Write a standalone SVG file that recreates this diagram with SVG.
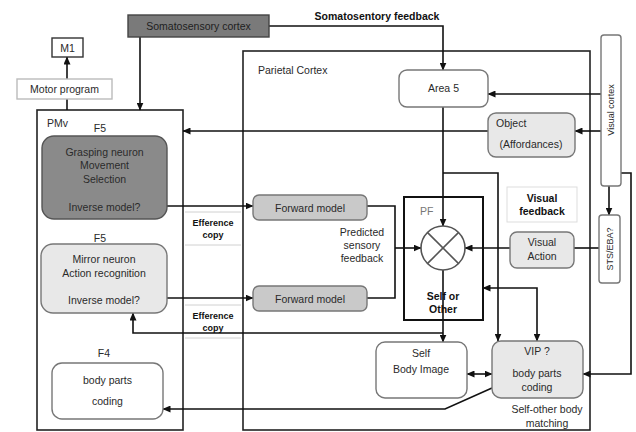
<svg xmlns="http://www.w3.org/2000/svg" width="636" height="432" viewBox="0 0 636 432">
  <defs>
    <marker id="arr" markerUnits="userSpaceOnUse" markerWidth="8" markerHeight="7" refX="7.5" refY="3.5" orient="auto">
      <path d="M0,0 L8,3.5 L0,7 z" fill="#111"/>
    </marker>
    <marker id="arrStart" markerUnits="userSpaceOnUse" markerWidth="8" markerHeight="7" refX="0.5" refY="3.5" orient="auto">
      <path d="M8,0 L0,3.5 L8,7 z" fill="#111"/>
    </marker>
  </defs>
  <style>
    text { font-family: "Liberation Sans", Arial, sans-serif; font-size: 10.5px; fill: #2a2a2a; }
    .c { text-anchor: middle; }
    .b { font-weight: bold; fill: #111; }
    .small { font-size: 9px; }
    .region { fill: none; stroke: #222; stroke-width: 1.6; }
    .box { fill: #fff; stroke: #777; stroke-width: 1.4; }
    .light { fill: #e8e8e8; stroke: #777; stroke-width: 1.4; }
    .mid { fill: #c9c9c9; stroke: #777; stroke-width: 1.4; }
    .dark { fill: #8a8a8a; stroke: #555; stroke-width: 1.4; }
    .faint { fill: none; stroke: #d0d0d0; stroke-width: 1; }
    .ln { fill: none; stroke: #111; stroke-width: 1.6; }
    .a { marker-end: url(#arr); }
    .as { marker-start: url(#arrStart); }
  </style>

  <!-- regions -->
  <g id="pmv">
    <rect class="region" x="37" y="110" width="146" height="320"/>
    <text x="47" y="127">PMv</text>
  </g>
  <g id="parietal-cortex">
    <rect class="region" x="243" y="51" width="347" height="379"/>
    <text x="258" y="74">Parietal Cortex</text>
  </g>
  <g id="efference-copy">
    <line class="faint" x1="185" y1="212" x2="241" y2="212"/>
    <line class="faint" x1="185" y1="245" x2="241" y2="245"/>
    <text class="c b small" x="213" y="226">Efference</text>
    <text class="c b small" x="213" y="238">copy</text>
    <line class="faint" x1="185" y1="305" x2="241" y2="305"/>
    <line class="faint" x1="185" y1="338" x2="241" y2="338"/>
    <text class="c b small" x="213" y="319">Efference</text>
    <text class="c b small" x="213" y="331">copy</text>
  </g>

  <!-- connectors -->
  <g id="connectors">
    <polyline class="ln a" points="269,26 443,26 443,70"/>
    <line class="ln a" x1="140" y1="37" x2="140" y2="110"/>
    <line class="ln" x1="67" y1="110" x2="67" y2="99"/>
    <line class="ln a" x1="67" y1="79" x2="67" y2="57"/>
    <line class="ln a" x1="601" y1="94" x2="488" y2="94"/>
    <line class="ln a" x1="601" y1="131" x2="575" y2="131"/>
    <line class="ln a" x1="488" y1="131" x2="183" y2="131"/>
    <polyline class="ln a" points="621,173 631,173 631,374 583,374"/>
    <line class="ln a" x1="609" y1="186" x2="609" y2="215"/>
    <line class="ln" x1="599" y1="248" x2="574" y2="248"/>
    <line class="ln a" x1="510" y1="248" x2="465" y2="248"/>
    <line class="ln a" x1="443" y1="107" x2="443" y2="226"/>
    <polyline class="ln a" points="443,173 498,173 498,341"/>
    <line class="ln a" x1="443" y1="270" x2="443" y2="342"/>
    <polyline class="ln a as" points="483,288 537,288 537,341"/>
    <line class="ln a" x1="167" y1="206" x2="253" y2="206"/>
    <line class="ln a" x1="167" y1="298" x2="253" y2="298"/>
    <polyline class="ln" points="367,206 395,206 395,298 367,298"/>
    <line class="ln a" x1="395" y1="248" x2="421" y2="248"/>
    <polyline class="ln a" points="443,333 133,333 133,313"/>
    <polyline class="ln a" points="492,388 445,409 163,409"/>
    <line class="ln a as" x1="467" y1="374" x2="492" y2="374"/>
  </g>

  <!-- nodes -->
  <g id="somatosensory-cortex">
    <rect x="128" y="15" width="141" height="22" fill="#7a7a7a" stroke="#444" stroke-width="1.4"/>
    <text class="c" x="198.5" y="30" style="fill:#1e1e1e">Somatosensory cortex</text>
  </g>
  <g id="somatosensory-feedback">
    <text class="c b" x="377" y="20">Somatosentory feedback</text>
  </g>
  <g id="m1">
    <rect class="box" x="52" y="38" width="31" height="19" style="stroke:#333"/>
    <text class="c" x="67.5" y="51.5">M1</text>
  </g>
  <g id="motor-program">
    <rect class="box" x="17" y="79" width="95" height="20" style="stroke:#bbb"/>
    <text class="c" x="64.5" y="93">Motor program</text>
  </g>
  <g id="grasping-neuron">
    <text class="c" x="100" y="132">F5</text>
    <rect class="dark" x="42" y="136" width="125" height="83" rx="12"/>
    <text class="c" x="104.5" y="156">Grasping neuron</text>
    <text class="c" x="104.5" y="169">Movement</text>
    <text class="c" x="104.5" y="183">Selection</text>
    <text class="c" x="104.5" y="211">Inverse model?</text>
  </g>
  <g id="mirror-neuron">
    <text class="c" x="100" y="242">F5</text>
    <rect class="light" x="41" y="244" width="126" height="69" rx="12"/>
    <text class="c" x="104" y="263">Mirror neuron</text>
    <text class="c" x="104" y="277">Action recognition</text>
    <text class="c" x="104" y="304">Inverse model?</text>
  </g>
  <g id="f4">
    <text class="c" x="104" y="357">F4</text>
    <rect class="box" x="52" y="363" width="111" height="56" rx="10"/>
    <text class="c" x="107.5" y="384">body parts</text>
    <text class="c" x="107.5" y="405">coding</text>
  </g>
  <g id="forward-model-1">
    <rect class="mid" x="253" y="195" width="114" height="25" rx="6"/>
    <text class="c" x="310" y="211.5">Forward model</text>
  </g>
  <g id="forward-model-2">
    <rect class="mid" x="253" y="286" width="114" height="25" rx="6"/>
    <text class="c" x="310" y="302.5">Forward model</text>
  </g>
  <g id="predicted-feedback">
    <text class="c" x="362" y="236">Predicted</text>
    <text class="c" x="362" y="249">sensory</text>
    <text class="c" x="362" y="262">feedback</text>
  </g>
  <g id="area5">
    <rect class="box" x="399" y="70" width="89" height="37" rx="8"/>
    <text class="c" x="443.5" y="92">Area 5</text>
  </g>
  <g id="object">
    <rect class="light" x="488" y="113" width="87" height="44" rx="8"/>
    <text x="496" y="127">Object</text>
    <text class="c" x="531" y="148">(Affordances)</text>
  </g>
  <g id="visual-cortex">
    <rect class="box" x="601" y="35" width="20" height="151" rx="3"/>
    <text class="c small" transform="translate(614,110) rotate(-90)">Visual cortex</text>
  </g>
  <g id="sts-eba">
    <rect class="box" x="599" y="215" width="21" height="68" rx="3"/>
    <text class="c small" transform="translate(612.5,249) rotate(-90)">STS/EBA?</text>
  </g>
  <g id="visual-feedback">
    <rect x="507" y="187" width="70" height="35" fill="none" stroke="#ddd" stroke-width="1"/>
    <text class="c b" x="542" y="202">Visual</text>
    <text class="c b" x="542" y="215">feedback</text>
  </g>
  <g id="visual-action">
    <rect class="light" x="510" y="232" width="64" height="36" rx="7"/>
    <text class="c" x="542" y="246">Visual</text>
    <text class="c" x="542" y="260">Action</text>
  </g>
  <g id="pf">
    <rect x="404" y="197" width="79" height="123" fill="none" stroke="#111" stroke-width="2"/>
    <text x="420" y="215" style="fill:#777">PF</text>
    <circle cx="443" cy="248" r="22" fill="#fff" stroke="#555" stroke-width="1.6"/>
    <line x1="427.4" y1="232.4" x2="458.6" y2="263.6" stroke="#555" stroke-width="1.6"/>
    <line x1="458.6" y1="232.4" x2="427.4" y2="263.6" stroke="#555" stroke-width="1.6"/>
    <text class="c b" x="443" y="300">Self or</text>
    <text class="c b" x="443" y="313">Other</text>
  </g>
  <g id="self-body-image">
    <rect class="box" x="376" y="342" width="91" height="56" rx="9"/>
    <text class="c" x="421" y="357">Self</text>
    <text class="c" x="421" y="373">Body Image</text>
  </g>
  <g id="vip">
    <rect class="light" x="492" y="341" width="91" height="57" rx="9"/>
    <text class="c" x="537" y="355">VIP ?</text>
    <text class="c" x="537" y="377">body parts</text>
    <text class="c" x="537" y="391">coding</text>
  </g>
  <g id="self-other-matching">
    <text class="c" x="547" y="413">Self-other body</text>
    <text class="c" x="547" y="427">matching</text>
  </g>
</svg>
